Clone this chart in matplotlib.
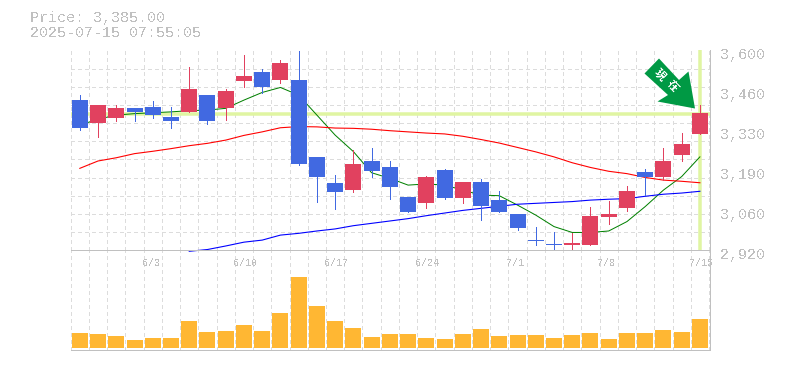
import matplotlib
matplotlib.use("Agg")
import matplotlib.pyplot as plt
from matplotlib.patches import Polygon, Rectangle
from matplotlib.transforms import ScaledTranslation, IdentityTransform
import numpy as np

W, H = 785, 370
plt.rcParams['font.family'] = ['Liberation Mono', 'DejaVu Sans']
plt.rcParams['lines.scale_dashes'] = False
plt.rcParams['text.antialiased'] = False
plt.rcParams['lines.antialiased'] = False

# Candles: colour follows close vs open (red = up, blue = down)
opens  = [3431,3353,3370,3404,3408,3374,3391,3448,3404,3496,3527,3499,3499,3238,3149,3125,3224,3204,3102,3081,3193,3098,3153,3091,3044,2954,2941,2938,2938,3034,3064,3187,3170,3244,3316]
closes = [3336,3414,3404,3391,3380,3360,3469,3360,3462,3513,3476,3557,3214,3170,3119,3214,3190,3136,3051,3170,3098,3153,3071,3051,2996,2952,2938,2945,3037,3044,3122,3170,3224,3282,3387]
highs  = [3448,3414,3414,3404,3428,3408,3544,3448,3469,3584,3537,3567,3599,3238,3176,3261,3268,3224,3102,3173,3197,3153,3163,3122,3044,3000,2983,2979,3068,3088,3139,3197,3268,3319,3414]
lows   = [3329,3306,3360,3360,3370,3336,3391,3350,3363,3476,3455,3489,3210,3085,3061,3119,3170,3095,3051,3064,3095,3081,3023,3051,2989,2938,2919,2925,2938,3010,3054,3108,3159,3224,3316]
ma_short = [3346,3366,3380,3385,3388,3391,3395,3397,3403,3431,3457,3474,3448,3380,3312,3256,3184,3165,3142,3146,3142,3125,3108,3106,3074,3040,3001,2981,2981,2986,3018,3069,3125,3171,3238]
ma_mid = [3199,3224,3235,3249,3257,3266,3276,3284,3295,3311,3323,3337,3341,3340,3336,3335,3332,3327,3323,3319,3316,3308,3297,3285,3270,3255,3238,3218,3202,3189,3181,3168,3159,3155,3150]
ma_long = [2917,2923,2935,2948,2955,2972,2978,2986,2993,3004,3012,3020,3028,3038,3047,3056,3063,3070,3077,3080,3083,3086,3091,3094,3096,3104,3111,3115,3121]
ma_long_start = 6
volumes = [44,41,35,23,29,29,80,47,50,68,50,104,212,125,80,59,32,42,42,30,27,42,57,36,39,39,30,39,45,27,45,45,54,48,87]
price_now = 3385
price_ticks = [3600,3464,3328,3192,3056,2920]
price_labels = ['3,600','3,460','3,330','3,190','3,060','2,920']
date_pos = [4,9,14,19,24,29,34]
date_labels = ['6/3','6/10','6/17','6/24','7/1','7/8','7/15']
header = ['Price: 3,385.00','2025-07-15 07:55:05']
badge = ['現', '在']

GRAY = '#c0c0c0'; GRID = '#dcdcdc'; UP = '#e1415f'; DOWN = '#4169e1'
HL = '#e0f5a2'; VOL = '#ffb733'; ARROW = '#009944'
px = 0.72
thin = 0.5

fig = plt.figure(figsize=(W/100, H/100), dpi=100, facecolor='white')
L, R, T, M, B = 70.5, 710.3, 50.4, 250.4, 350.4
av = fig.add_axes([L/W, 1-B/H, (R-L)/W, (B-M)/H], zorder=1)
ap = fig.add_axes([L/W, 1-M/H, (R-L)/W, (M-T)/H], zorder=2)
ap.patch.set_visible(False)
av.patch.set_visible(False)
n = len(opens)
xs = np.arange(n)
xlim = (-0.51, 34.57)
bounds = np.arange(-0.5, n, 1)

for a in (ap, av):
    a.set_xlim(*xlim)
    a.set_xticks(bounds, minor=True)
    a.tick_params(which='both', length=0)
    a.grid(True, which='minor', axis='x', color=GRID, lw=thin, linestyle=(0, (2.2, 2.2)), zorder=0)
    a.set_axisbelow(True)
    for s in ('left', 'top'):
        a.spines[s].set_visible(False)
    for s in ('right', 'bottom'):
        a.spines[s].set_color(GRAY)
        a.spines[s].set_linewidth(px)

ap.set_ylim(2920, 3600)
ap.set_yticks(np.linspace(2920, 3600, 12), minor=True)
ap.grid(True, which='minor', axis='y', color=GRID, lw=thin, linestyle=(0, (2.2, 2.2)), zorder=0)
ap.yaxis.tick_right()
ap.set_yticks(price_ticks, price_labels, fontsize=10.8, color=GRAY)
ap.tick_params(axis='y', which='major', pad=6.8, labelcolor=GRAY)
off = ScaledTranslation(0, -3/100, fig.dpi_scale_trans)
for lab in ap.get_yticklabels():
    lab.set_transform(lab.get_transform() + off)
ap.set_xticks(date_pos, date_labels, fontsize=7.2, color=GRAY, ha='left')
ap.tick_params(axis='x', which='major', pad=5.5, labelcolor=GRAY)
xoff = ScaledTranslation(-11/100, 0, fig.dpi_scale_trans)
for lab in ap.get_xticklabels():
    lab.set_transform(lab.get_transform() + xoff)
av.set_xticks([])
av.set_yticks([])

# highlight lines
ap.axhline(price_now, color=HL, lw=3.5*px, zorder=1.5, antialiased=True)
ap.axvline(xs[-1], color=HL, lw=3.5*px, zorder=1.5, antialiased=True)

# moving averages
ap.plot(xs, ma_short, color='#008000', lw=px, zorder=2, clip_on=False, antialiased=True)
ap.plot(xs, ma_mid, color='#ff0000', lw=px*1.1, zorder=2, clip_on=False, antialiased=True)
ap.plot(xs[ma_long_start:], ma_long, color='#0000ff', lw=px*1.1, zorder=2, clip_on=False, antialiased=True)

# candles
bw = 16/18.24
for x, o, c, h, l in zip(xs, opens, closes, highs, lows):
    col = UP if c >= o else DOWN
    ap.vlines(x, l, h, color=col, lw=thin, zorder=3, antialiased=False)
    ap.add_patch(Rectangle((x-bw/2, min(o, c)), bw, abs(c-o), facecolor=col, edgecolor='none', zorder=4))

# volume
av.set_ylim(-7.8, 292.2)
av.bar(xs, volumes, width=bw, color=VOL, zorder=3)

# header
fig.text(30/W, 1-18/H, header[0], fontsize=10.8, color=GRAY, va='center', ha='left')
fig.text(30/W, 1-33/H, header[1], fontsize=10.8, color=GRAY, va='center', ha='left')

# arrow badge
arrow_px = [(659, 58.5), (679, 80), (688.5, 71.5), (695, 108.5), (657.5, 101.5), (668, 95), (644.5, 73.5)]
fig.add_artist(Polygon([(x, H-y) for x, y in arrow_px], closed=True, facecolor=ARROW,
                       edgecolor='none', transform=IdentityTransform(), zorder=6))
for ch, (tx, ty) in zip(badge, [(660, 75), (672.5, 86)]):
    fig.text(tx/W, 1-ty/H, ch, family=['Noto Sans CJK JP', 'DejaVu Sans'], fontsize=8, fontweight='bold',
             color='white', rotation=-45, rotation_mode='anchor', ha='center', va='center', zorder=7)

fig.savefig('out.png', dpi=100, facecolor='white')
